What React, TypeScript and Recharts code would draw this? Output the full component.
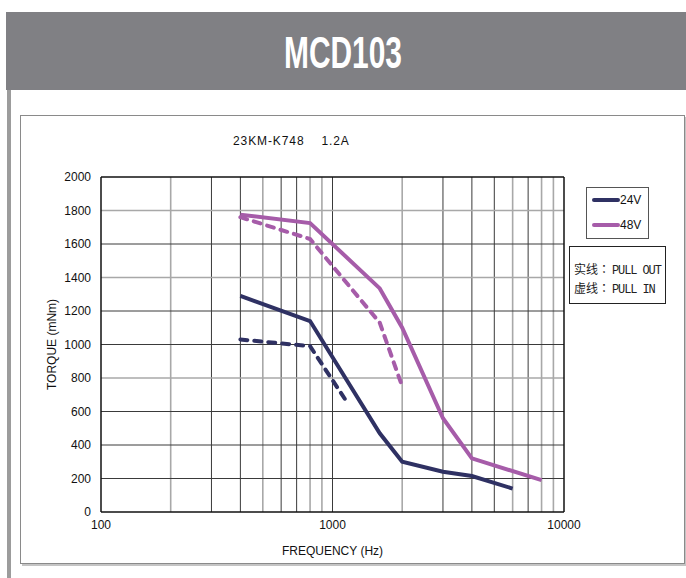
import React from 'react';
import { LineChart, Line, XAxis, YAxis, ReferenceLine } from 'recharts';

const chartTitle = 'MCD103';
const modelLabel = '23KM-K748';
const currentLabel = '1.2A';
const xAxisTitle = 'FREQUENCY (Hz)';
const yAxisTitle = 'TORQUE (mNm)';
const legendNames = ['24V', '48V'];
const noteLines = ['实线：PULL OUT', '虚线：PULL IN'];

const freqTicks = [100, 1000, 10000];
const torqueTicks = [0, 200, 400, 600, 800, 1000, 1200, 1400, 1600, 1800, 2000];
const freqGridLight = [200, 500, 800, 900, 2000, 6000, 8000, 9000];
const freqGridDark = [300, 400, 600, 700, 1000, 3000, 4000, 5000, 7000];
const torqueGridLight = [1800, 1400, 800];
const torqueGridDark = [200, 400, 600, 1000, 1200, 1600];

const pullOut24 = [
  { f: 400, t: 1290 },
  { f: 800, t: 1140 },
  { f: 1600, t: 470 },
  { f: 2000, t: 300 },
  { f: 3000, t: 240 },
  { f: 4000, t: 215 },
  { f: 6000, t: 140 },
];
const pullIn24 = [
  { f: 400, t: 1030 },
  { f: 800, t: 990 },
  { f: 1150, t: 660 },
];
const pullOut48 = [
  { f: 400, t: 1775 },
  { f: 800, t: 1725 },
  { f: 1600, t: 1335 },
  { f: 2000, t: 1100 },
  { f: 3000, t: 560 },
  { f: 4000, t: 320 },
  { f: 8000, t: 190 },
];
const pullIn48 = [
  { f: 400, t: 1760 },
  { f: 800, t: 1630 },
  { f: 1600, t: 1130 },
  { f: 2000, t: 750 },
];

const NAVY = '#2f3163';
const PURPLE = '#a65ca9';
const LIGHT = '#a8a8a8';
const DARK = '#3a3a3a';

const sans = '"Liberation Sans", Arial, sans-serif';

export default function App() {
  return (
    <div style={{ position: 'absolute', left: 0, top: 0, width: 686, height: 578, background: '#fff', overflow: 'hidden' }}>
      {/* header */}
      <div style={{ position: 'absolute', left: 6, top: 12, width: 680, height: 78, background: '#808084' }}>
        <svg width={680} height={78} style={{ position: 'absolute', left: 0, top: 0 }}>
          <text
            x={337}
            y={56}
            textAnchor="middle"
            fill="#ffffff"
            fontSize={45}
            fontWeight="bold"
            fontFamily='"Liberation Sans Narrow", "Liberation Sans", sans-serif'
            textLength={118}
            lengthAdjust="spacingAndGlyphs"
          >
            {chartTitle}
          </text>
        </svg>
      </div>
      {/* left bar */}
      <div style={{ position: 'absolute', left: 7, top: 90, width: 4, height: 488, background: '#9c9c9c' }} />
      {/* inner box */}
      <div
        style={{
          position: 'absolute',
          left: 20,
          top: 115,
          width: 663,
          height: 447,
          border: '1px solid #8a8a8a',
          boxShadow: '2px 2px 0 #c4c4c4',
        }}
      />
      {/* subtitle */}
      <div style={{ position: 'absolute', left: 233, top: 133, fontFamily: sans, fontSize: 12, letterSpacing: 0.9, color: '#111', whiteSpace: 'pre', lineHeight: '16px' }}>
        {modelLabel + '    ' + currentLabel}
      </div>

      <div style={{ position: 'absolute', left: 0, top: 0 }}>
        <LineChart width={686} height={578} margin={{ top: 177, right: 122, bottom: 16, left: 41 }}>
          <XAxis
            dataKey="f"
            type="number"
            scale="log"
            domain={[100, 10000]}
            ticks={freqTicks}
            allowDataOverflow
            height={50}
            tickLine={false}
            tickSize={6}
            tickMargin={2}
            axisLine={{ stroke: '#111', strokeWidth: 1.5 }}
            tick={{ fill: '#111', fontSize: 12, fontFamily: sans }}
            label={{ value: xAxisTitle, position: 'insideBottom', offset: 7, fill: '#111', fontSize: 12, fontFamily: sans }}
          />
          <YAxis
            type="number"
            domain={[0, 2000]}
            ticks={torqueTicks}
            width={60}
            tickLine={false}
            tickSize={6}
            tickMargin={4}
            axisLine={{ stroke: '#111', strokeWidth: 1.5 }}
            tick={{ fill: '#111', fontSize: 12, fontFamily: sans }}
            label={{ value: yAxisTitle, angle: -90, position: 'insideLeft', offset: 11, fill: '#111', fontSize: 12, fontFamily: sans, style: { textAnchor: 'middle' } }}
          />
          {freqGridLight.map((v) => (
            <ReferenceLine key={'xl' + v} x={v} stroke={LIGHT} strokeWidth={1.6} />
          ))}
          {freqGridDark.map((v) => (
            <ReferenceLine key={'xd' + v} x={v} stroke={DARK} strokeWidth={1} />
          ))}
          {torqueGridLight.map((v) => (
            <ReferenceLine key={'yl' + v} y={v} stroke={LIGHT} strokeWidth={1.6} />
          ))}
          {torqueGridDark.map((v) => (
            <ReferenceLine key={'yd' + v} y={v} stroke={DARK} strokeWidth={1} />
          ))}
          <ReferenceLine y={2000} stroke="#111" strokeWidth={1.5} />
          <ReferenceLine x={10000} stroke="#111" strokeWidth={1.5} />
          <Line data={pullOut48} dataKey="t" stroke={PURPLE} strokeWidth={4} dot={false} isAnimationActive={false} type="linear" />
          <Line data={pullIn48} dataKey="t" stroke={PURPLE} strokeWidth={4} strokeDasharray="7 7" strokeLinecap="round" dot={false} isAnimationActive={false} type="linear" />
          <Line data={pullOut24} dataKey="t" stroke={NAVY} strokeWidth={4} dot={false} isAnimationActive={false} type="linear" />
          <Line data={pullIn24} dataKey="t" stroke={NAVY} strokeWidth={4} strokeDasharray="7 7" strokeLinecap="round" dot={false} isAnimationActive={false} type="linear" />
        </LineChart>
      </div>

      {/* legend */}
      <div style={{ position: 'absolute', left: 586, top: 187, width: 61, height: 50, border: '1px solid #555', background: '#fff' }} />
      {[NAVY, PURPLE].map((c, i) => (
        <React.Fragment key={legendNames[i]}>
          <div style={{ position: 'absolute', left: 592, top: 198 + i * 25, width: 28, height: 4, borderRadius: 2, background: c }} />
          <div style={{ position: 'absolute', left: 620, top: 192 + i * 25, fontFamily: sans, fontSize: 12, lineHeight: '16px', color: '#111' }}>
            {legendNames[i]}
          </div>
        </React.Fragment>
      ))}

      {/* note box */}
      <div style={{ position: 'absolute', left: 569, top: 246, width: 95, height: 56, border: '1.5px solid #222', background: '#fff' }} />
      {noteLines.map((s, i) => {
        const idx = s.indexOf('：') + 1;
        return (
          <div
            key={s}
            style={{
              position: 'absolute',
              left: 574,
              top: 261 + i * 19,
              fontSize: 12,
              lineHeight: '16px',
              color: '#222',
              whiteSpace: 'pre',
            }}
          >
            <span style={{ fontFamily: '"Noto Sans CJK JP", sans-serif' }}>{s.slice(0, idx)}</span>
            <span style={{ fontFamily: '"Liberation Mono", monospace', letterSpacing: -1.1, marginLeft: 2 }}>{s.slice(idx)}</span>
          </div>
        );
      })}
    </div>
  );
}
